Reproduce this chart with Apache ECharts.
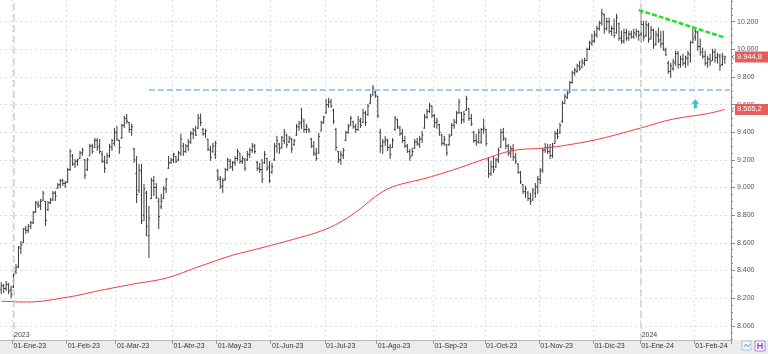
<!DOCTYPE html>
<html><head><meta charset="utf-8">
<script src="https://cdn.jsdelivr.net/npm/echarts@6/dist/echarts.min.js"></script>
<style>html,body{margin:0;padding:0;background:#fff}#c{width:768px;height:354px}</style>
</head><body><div id="c"></div>
<script>
const monthNames = ['Ene','Feb','Mar','Abr','May','Jun','Jul','Ago','Sep','Oct','Nov','Dic'];
const holidays = ['2022-12-26','2023-04-07','2023-04-10','2023-05-01','2023-12-25','2023-12-26','2024-01-01'];
const firstDay = '2022-12-23';
const lastDay = '2024-02-19';

const opens = [
8260,8290,8270,8300,8260,
8280,8390,8430,8560,8600,8700,8690,8720,8745,8825,8880,8870,8910,8900,8840,8890,8910,8960,8995,9020,9050,9030,
9040,9130,9230,9170,9190,9210,9250,9200,9130,9230,9300,9290,9340,9300,9240,9190,9180,9230,9290,9320,
9400,9340,9360,9450,9500,9470,9420,9280,9100,8980,9120,8800,8960,8650,8920,9050,9000,8900,8860,8920,8990,9140,9180,
9200,9225,9200,9250,9300,9260,9300,9330,9390,9410,9430,9500,9420,9390,9350,9270,9260,9240,
9120,9060,9010,9060,9130,9190,9150,9180,9210,9250,9190,9200,9200,9240,9270,9300,9180,9140,9130,9180,9210,9150,
9110,9200,9300,9315,9290,9340,9380,9330,9350,9310,9380,9440,9470,9480,9420,9420,9350,9300,9240,9250,9410,9470,
9540,9600,9620,9560,9420,9260,9200,9230,9340,9400,9450,9475,9440,9420,9480,9470,9540,9530,9610,9670,9690,
9660,9400,9300,9330,9340,9290,9290,9420,9490,9430,9390,9340,9300,9260,9230,9285,9330,9310,9350,9430,9510,9550,9590,
9520,9470,9455,9380,9320,9310,9310,9380,9450,9470,9540,9540,9490,9560,9570,9500,9400,9340,9330,9330,9420,
9420,9200,9100,9150,9150,9200,9290,9400,9350,9300,9250,9280,9220,9170,9110,9020,8970,8960,8920,8910,8960,9000,
9060,9130,9270,9290,9260,9230,9320,9390,9395,9480,9610,9650,9690,9760,9830,9840,9880,9870,9900,9920,10000,10040,
10060,10100,10150,10190,10250,10150,10200,10130,10150,10120,10185,10080,10060,10120,10080,10110,10090,10110,10130,
10110,10180,10100,10170,10080,10140,10040,10100,10070,10040,9990,9900,9840,9860,9900,9970,9890,9930,9900,9930,9960,10050,
10090,10120,10020,9980,9950,9900,9930,9920,9980,9940,9950,9890,9930
];
const closes = [
8290,8270,8300,8250,8229,
8370,8420,8569,8585,8700,8690,8720,8745,8820,8890,8870,8900,8960,8760,8890,8910,8960,8940,9020,9050,9030,9034,
9130,9260,9170,9190,9200,9250,9270,9090,9200,9300,9260,9340,9290,9260,9190,9140,9230,9300,9340,9394,
9350,9290,9450,9500,9480,9420,9440,9200,8950,9130,8760,8990,8720,8780,9050,9000,8930,8790,8900,8990,9060,9180,9200,
9240,9190,9250,9350,9260,9300,9330,9390,9420,9380,9510,9470,9390,9410,9280,9220,9300,9320,
9070,9010,9050,9130,9200,9150,9180,9210,9260,9190,9210,9140,9240,9270,9300,9260,9140,9130,9060,9240,9140,9050,
9150,9300,9340,9280,9360,9400,9310,9360,9280,9340,9440,9460,9500,9420,9440,9410,9300,9250,9210,9370,9470,9510,
9600,9620,9590,9480,9290,9200,9240,9270,9400,9440,9500,9440,9420,9490,9450,9540,9470,9590,9660,9720,9670,
9520,9300,9330,9350,9290,9240,9340,9500,9440,9390,9340,9300,9260,9220,9260,9330,9320,9350,9380,9510,9550,9590,9520,
9470,9480,9400,9320,9350,9250,9370,9450,9480,9540,9620,9490,9530,9640,9500,9460,9340,9330,9400,9420,9430,
9320,9100,9150,9130,9200,9270,9400,9360,9300,9250,9280,9220,9190,9110,9040,8970,8990,8920,8900,8980,9010,9060,
9120,9270,9290,9260,9230,9300,9390,9370,9450,9610,9660,9680,9760,9830,9850,9880,9860,9910,9920,10000,10050,10058,
10110,10150,10190,10260,10150,10200,10130,10150,10100,10230,10080,10060,10120,10080,10110,10090,10120,10130,10102,
10180,10090,10180,10070,10140,10030,10110,10060,10040,10000,9960,9840,9880,9910,9970,9890,9930,9900,9940,9970,10050,10077,
10130,10020,9980,9950,9900,9930,9910,9980,9940,9960,9880,9950,9944.8
];
const lows = [
8229,8237,8251,8229,8200,
8273,8374,8417,8519,8599,8664,8672,8700,8736,8816,8852,8838,8903,8722,8830,8881,8903,8903,8990,8997,9012,8997,
9033,9120,9157,9142,9157,9207,9229,9062,9120,9229,9244,9287,9265,9244,9178,9106,9171,9215,9265,9302,
9338,9244,9352,9432,9461,9396,9374,9178,8888,8961,8736,8758,8649,8490,8917,8939,8917,8700,8845,8917,8961,9135,9171,
9178,9178,9193,9229,9229,9251,9265,9316,9352,9374,9425,9446,9374,9359,9265,9193,9251,9207,
9048,8990,8961,9048,9120,9135,9120,9157,9193,9171,9171,9120,9193,9215,9251,9244,9120,9106,9033,9171,9120,9033,
9099,9193,9251,9244,9280,9316,9287,9323,9251,9302,9374,9410,9425,9396,9396,9396,9287,9229,9193,9244,9410,9461,
9533,9577,9577,9461,9265,9178,9164,9207,9338,9389,9446,9425,9396,9410,9432,9468,9446,9519,9606,9664,9649,
9504,9251,9244,9302,9265,9207,9287,9410,9425,9374,9323,9287,9251,9193,9229,9280,9302,9287,9323,9425,9497,9541,9504,
9432,9425,9374,9302,9302,9229,9302,9374,9425,9461,9533,9461,9468,9555,9483,9446,9323,9302,9316,9316,9389,
9302,9070,9084,9106,9142,9178,9287,9338,9280,9229,9215,9193,9171,9099,9026,8954,8925,8903,8874,8903,8925,8954,
9026,9106,9251,9244,9207,9215,9316,9352,9389,9468,9606,9642,9686,9751,9809,9830,9845,9867,9881,9917,9995,10026,
10048,10084,10135,10171,10113,10135,10113,10099,10084,10113,10062,10041,10041,10062,10062,10077,10077,10084,10062,
10048,10062,10090,10048,10070,10004,10026,10048,10012,9990,9954,9823,9794,9845,9881,9860,9867,9881,9867,9881,9903,10041,
10062,9990,9954,9932,9881,9867,9881,9917,9903,9896,9845,9881,9896
];
const highs = [
8316,8302,8323,8310,8290,
8381,8446,8577,8613,8707,8722,8736,8758,8830,8903,8903,8917,8975,8903,8903,8925,8975,8975,9033,9062,9062,9048,
9142,9280,9244,9207,9207,9265,9287,9207,9215,9316,9316,9359,9359,9352,9265,9229,9251,9316,9352,9432,
9446,9345,9461,9519,9533,9475,9461,9287,9229,9171,9171,9026,8975,8867,9070,9084,9033,8925,8954,9012,9070,9229,9215,
9251,9229,9265,9389,9323,9316,9352,9410,9432,9446,9533,9535,9432,9425,9352,9302,9323,9338,
9135,9084,9070,9142,9215,9207,9193,9229,9280,9251,9229,9215,9265,9287,9323,9316,9193,9178,9207,9265,9215,9193,
9178,9323,9374,9323,9374,9425,9389,9374,9359,9352,9461,9483,9577,9497,9461,9432,9359,9338,9287,9396,9483,9519,
9642,9649,9642,9570,9432,9265,9265,9287,9410,9461,9519,9483,9461,9519,9504,9570,9555,9606,9678,9743,9700,
9664,9425,9352,9374,9352,9316,9359,9519,9497,9446,9425,9374,9316,9280,9287,9352,9359,9374,9410,9533,9570,9613,9591,
9533,9504,9461,9389,9374,9316,9389,9468,9497,9555,9642,9548,9555,9664,9577,9533,9410,9389,9425,9432,9497,
9425,9215,9193,9229,9215,9287,9425,9432,9359,9316,9302,9316,9251,9178,9120,9026,9012,8975,8961,8997,9033,9084,
9142,9287,9323,9316,9316,9323,9410,9425,9468,9628,9678,9700,9772,9845,9867,9896,9917,9932,9939,10012,10062,10113,
10135,10171,10207,10294,10258,10229,10229,10171,10222,10258,10193,10135,10149,10149,10135,10135,10149,10149,10135,
10280,10207,10207,10193,10171,10149,10135,10157,10135,10135,10012,9917,9903,9932,9990,9990,9954,9968,9954,9990,10062,10149,
10157,10135,10077,10012,9990,9954,9968,10004,10004,9975,9968,9975,9954
];

// 200-session moving average, read at selected sessions (bar index -> value)
const maIndex  = [0,10,27,40,54,67,81,94,105,121,130,138,146,152,159,173,186,197,208,222,235,245,260,273,287,294];
const maValues = [8178,8172,8207,8255,8303,8345,8432,8510,8560,8637,8686,8752,8848,8935,9005,9070,9142,9210,9268,9288,9323,9360,9432,9495,9535,9565.2];

const yTickLabels = [8000,8200,8400,8600,8800,9000,9200,9400,9600,9800,10000,10200];
const supportLevel = 9710;
const supportFromIndex = 60;
const trendStart = [259, 10285];
const trendEnd = [294, 10085];
const arrowPoint = [282, 9606];
const lastPrice = 9944.8;
const lastMA = 9565.2;

function tradingDays(from, to, hol) {
  const out = [];
  const d = new Date(from + 'T00:00:00Z');
  const end = new Date(to + 'T00:00:00Z');
  while (d <= end) {
    const wd = d.getUTCDay();
    const s = d.toISOString().slice(0, 10);
    if (wd !== 0 && wd !== 6 && hol.indexOf(s) < 0) out.push(s);
    d.setUTCDate(d.getUTCDate() + 1);
  }
  return out;
}
const dates = tradingDays(firstDay, lastDay, holidays);
const categories = dates.concat(['', '']);
function isMonthStart(i) {
  return i > 0 && i < dates.length && dates[i].slice(5, 7) !== dates[i - 1].slice(5, 7);
}
function isYearStart(i) {
  return i > 0 && i < dates.length && dates[i].slice(0, 4) !== dates[i - 1].slice(0, 4);
}
const yearIdx = [];
for (let i = 0; i < dates.length; i++) if (isYearStart(i)) yearIdx.push(i);

function fmtEs(v, dec) {
  const neg = v < 0; v = Math.abs(v);
  let s = dec ? v.toFixed(dec) : String(Math.round(v));
  let [ip, fp] = s.split('.');
  ip = ip.replace(/\B(?=(\d{3})+(?!\d))/g, '.');
  return (neg ? '-' : '') + ip + (fp ? ',' + fp : '');
}

const minorTicks = [];
for (let v = 7900; v <= 10350; v += 50) minorTicks.push(v);

const Y_MIN = 7897, Y_MAX = 10357;
const FONT = 'Liberation Sans';
const ohlc = opens.map((o, i) => [i, o, closes[i], lows[i], highs[i]]);

const chart = echarts.init(document.getElementById('c'), null, {renderer: 'canvas', width: 768, height: 354});
const yearMarkLines = yearIdx.map(i => ({xAxis: dates[i], lineStyle: {color: '#cfcfcf', width: 1.5, type: [7, 4]}}));
const yearLabels = yearIdx.map(i => ({
  coord: [i, 7933], symbol: 'circle', symbolSize: 1, itemStyle: {color: 'rgba(0,0,0,0)'},
  label: {show: true, position: 'right', distance: 0, formatter: dates[i].slice(0, 4), color: '#444', fontSize: 7, fontFamily: FONT}
}));

chart.setOption({
  animation: false,
  backgroundColor: '#ffffff',
  textStyle: {fontFamily: FONT},
  grid: {left: 0, right: 37, top: 0, bottom: 14, containLabel: false},
  xAxis: {
    type: 'category', data: categories, boundaryGap: true,
    axisLine: {show: true, lineStyle: {color: '#b8b8b8', width: 1}},
    axisTick: {show: true, interval: (i) => isMonthStart(i), length: 4, lineStyle: {color: '#9a9a9a'}},
    axisLabel: {show: true, interval: (i) => isMonthStart(i), margin: 3, color: '#333', fontSize: 7, fontFamily: FONT, align: 'left',
      formatter: (v) => v ? '01-' + monthNames[+v.slice(5, 7) - 1] + '-' + v.slice(2, 4) : ''},
    splitLine: {show: true, interval: (i) => isMonthStart(i), lineStyle: {color: '#dedede', type: [2, 3], width: 1}}
  },
  yAxis: [{
    type: 'value', position: 'right', min: Y_MIN, max: Y_MAX,
    axisLine: {show: true, lineStyle: {color: '#8c8c8c', width: 1}},
    axisTick: {show: true, customValues: yTickLabels, length: 4, lineStyle: {color: '#8c8c8c'}},
    axisLabel: {show: true, customValues: yTickLabels, margin: 6, color: '#555', fontSize: 7, fontFamily: FONT, formatter: (v) => fmtEs(v)},
    splitLine: {show: true, lineStyle: {color: '#dcdcdc', type: [2, 3], width: 1}}
  }, {
    type: 'value', position: 'right', min: Y_MIN, max: Y_MAX,
    axisLine: {show: false},
    axisTick: {show: true, customValues: minorTicks, length: 2, lineStyle: {color: '#8c8c8c'}},
    axisLabel: {show: false},
    splitLine: {show: false}
  }],
  series: [{
    type: 'custom', name: 'OHLC', data: ohlc, encode: {x: 0, y: [1, 2, 3, 4]}, z: 3,
    renderItem: function (params, api) {
      const i = api.value(0);
      const pO = api.coord([i, api.value(1)]);
      const pC = api.coord([i, api.value(2)]);
      const pL = api.coord([i, api.value(3)]);
      const pH = api.coord([i, api.value(4)]);
      const x = pO[0];
      const st = {stroke: '#3a3a3a', lineWidth: 1};
      return {type: 'group', children: [
        {type: 'line', shape: {x1: x, y1: pH[1], x2: x, y2: pL[1]}, style: st},
        {type: 'line', shape: {x1: x - 1.3, y1: pO[1], x2: x, y2: pO[1]}, style: st},
        {type: 'line', shape: {x1: x, y1: pC[1], x2: x + 1.3, y2: pC[1]}, style: st}
      ]};
    }
  }, {
    type: 'line', name: 'MA', data: maIndex.map((k, j) => [k, maValues[j]]),
    showSymbol: false, smooth: 0.4, z: 4,
    lineStyle: {color: '#f03c3c', width: 1},
    markLine: {
      silent: true, symbol: ['none', 'none'], label: {show: false}, animation: false,
      data: [
        [{coord: [supportFromIndex, supportLevel], lineStyle: {color: '#a6c8f0', width: 2, type: [6, 3]}}, {coord: [categories.length - 1, supportLevel]}],
        [{coord: trendStart, lineStyle: {color: '#22e022', width: 2.5, type: [5, 2]}}, {coord: trendEnd}]
      ].concat(yearMarkLines)
    },
    markPoint: {
      silent: true, animation: false,
      data: [{coord: arrowPoint, symbol: 'path://M5,0 L10,5 L7,5 L7,10 L3,10 L3,5 L0,5 Z', symbolSize: [8, 9],
        itemStyle: {color: '#38c3c8'}, label: {show: false}}].concat(yearLabels)
    }
  }],
  graphic: [
    {type: 'rect', id: 'strip', shape: {x: 0, y: 340, width: 768, height: 14}, style: {fill: '#ececec'}, z: -10, silent: true},
    {type: 'rect', id: 'ic1', shape: {x: 742, y: 341, width: 9, height: 9}, style: {fill: '#f4f8fc', stroke: '#aac4dc', lineWidth: 1}, z: 10},
    {type: 'polyline', id: 'ic1g', shape: {points: [[744, 347], [746, 344], [748, 347], [750, 344]]}, style: {stroke: '#6a9fd0', lineWidth: 1, fill: null}, z: 11},
    {type: 'rect', id: 'ic2', shape: {x: 755, y: 341, width: 10, height: 10}, style: {fill: '#ffffff', stroke: '#9b8cc8', lineWidth: 1}, z: 10},
    {type: 'text', id: 'ic2t', style: {text: 'H', x: 760, y: 346.5, align: 'center', verticalAlign: 'middle', fill: '#8a3cd0', fontSize: 9, fontWeight: 'bold', fontFamily: FONT}, z: 11}
  ]
});

function priceTag(id, value) {
  const y = chart.convertToPixel({yAxisIndex: 0}, value);
  return [
    {type: 'rect', id: id + 'r', shape: {x: 735, y: y - 5.5, width: 33, height: 11}, style: {fill: '#e65c5c'}, z: 20},
    {type: 'text', id: id + 't', style: {text: fmtEs(value, 1), x: 737, y: y, align: 'left', verticalAlign: 'middle', fill: '#ffffff', fontSize: 7.5, fontFamily: FONT}, z: 21},
    {type: 'polyline', id: id + 'p', shape: {points: [[734, y - 2], [732, y], [734, y + 2]]}, style: {stroke: '#777', lineWidth: 1, fill: null}, z: 21}
  ];
}
chart.setOption({graphic: priceTag('lp', lastPrice).concat(priceTag('ma', lastMA))});
</script>
</body></html>
